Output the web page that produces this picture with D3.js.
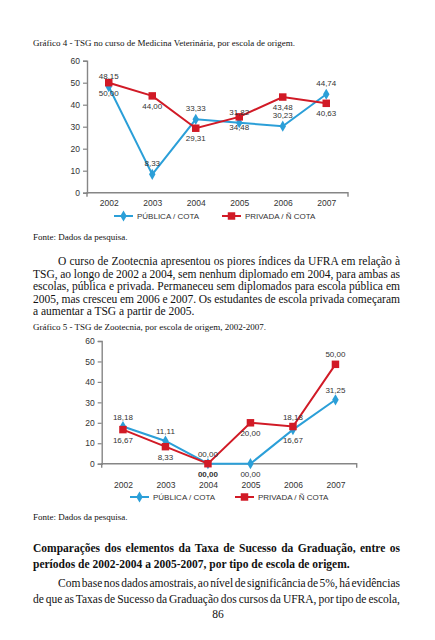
<!DOCTYPE html>
<html>
<head>
<meta charset="utf-8">
<script src="https://cdn.jsdelivr.net/npm/d3@7/dist/d3.min.js"></script>
<style>
  html, body { margin: 0; padding: 0; background: #fff; }
  svg { display: block; }
</style>
</head>
<body>
<svg id="page" width="435" height="640"></svg>
<script>
// ---------- DATA ----------
const years = ["2002", "2003", "2004", "2005", "2006", "2007"];
const yTicks = [0, 10, 20, 30, 40, 50, 60];
const seriesNames = ["PÚBLICA / COTA", "PRIVADA / Ñ COTA"];

// Gráfico 4 - Medicina Veterinária
const vetPublica = [48.15, 8.33, 33.33, 31.82, 30.23, 44.74];
const vetPrivada = [50.00, 44.00, 29.31, 34.48, 43.48, 40.63];
const vetPublicaLabels = ["48,15", "8,33", "33,33", "31,82", "30,23", "44,74"];
const vetPrivadaLabels = ["50,00", "44,00", "29,31", "34,48", "43,48", "40,63"];
const vetPublicaPos = ["above", "above", "above", "above", "above", "above"];
const vetPrivadaPos = ["below", "below", "below", "below", "below", "below"];

// Gráfico 5 - Zootecnia
const zooPublica = [18.18, 11.11, 0.00, 0.00, 16.67, 31.25];
const zooPrivada = [16.67, 8.33, 0.00, 20.00, 18.18, 48.6];
const zooPublicaLabels = ["18,18", "11,11", "00,00", "00,00", "16,67", "31,25"];
const zooPrivadaLabels = ["16,67", "8,33", "00,00", "20,00", "18,18", "50,00"];
const zooPublicaPos = ["above", "above", "below", "below", "below", "above"];
const zooPrivadaPos = ["below", "below", "above", "below", "above", "above"];
const zooPublicaBold = [false, false, true, false, false, false];

// Texts
const caption4 = "Gráfico 4 - TSG no curso de Medicina Veterinária, por escola de origem.";
const caption5 = "Gráfico 5 - TSG de Zootecnia, por escola de origem, 2002-2007.";
const sourceText = "Fonte: Dados da pesquisa.";
const para1 = [
  "O curso de Zootecnia apresentou os piores índices da UFRA em relação à",
  "TSG, ao longo de 2002 a 2004, sem nenhum diplomado em 2004, para ambas as",
  "escolas, pública e privada. Permaneceu sem diplomados para escola pública em",
  "2005, mas cresceu em 2006 e 2007. Os estudantes de escola privada começaram",
  "a aumentar a TSG a partir de 2005."
];
const heading = [
  "Comparações dos elementos da Taxa de Sucesso da Graduação, entre os",
  "períodos de 2002-2004 a 2005-2007, por tipo de escola de origem."
];
const para2 = [
  "Com base nos dados amostrais, ao nível de significância de 5%, há evidências",
  "de que as Taxas de Sucesso da Graduação dos cursos da UFRA, por tipo de escola,"
];
const pageNumber = "86";

// ---------- STYLE ----------
const BLUE = "#2b9fd8";
const RED = "#d11a26";
const AXIS = "#868686";
const SERIF = "'Liberation Serif', 'Times New Roman', serif";
const SANS = "'Liberation Sans', Arial, sans-serif";
const LEFT = 33, RIGHT = 400;

const svg = d3.select("#page");
svg.append("rect").attr("width", 435).attr("height", 640).attr("fill", "#fff");

// text line helper (justify with word-spacing)
function textLine(str, x, y, opts) {
  const o = Object.assign({size: 11.5, weight: "normal", justifyTo: null, family: SERIF, anchor: "start"}, opts || {});
  const t = svg.append("text")
    .attr("x", x).attr("y", y)
    .attr("font-family", o.family)
    .attr("font-size", o.size)
    .attr("font-weight", o.weight)
    .attr("text-anchor", o.anchor)
    .attr("fill", "#111")
    .text(str);
  if (o.justifyTo) {
    const natural = t.node().getComputedTextLength();
    const spaces = (str.match(/ /g) || []).length;
    if (spaces > 0) t.attr("word-spacing", ((o.justifyTo - x) - natural) / spaces);
  }
  return t;
}

const diamondPath = d3.symbol().type(d3.symbolDiamond).size(36);
const squarePath = d3.symbol().type(d3.symbolSquare).size(56);

// ---------- CHART ----------
function drawChart(cfg) {
  const g = svg.append("g");
  const x = d3.scalePoint().domain(years).range([cfg.x0, cfg.x1]).padding(0.5);
  const y = d3.scaleLinear().domain([0, 60]).range([cfg.yb, cfg.yt]);

  // y axis
  const ya = g.append("g").attr("transform", `translate(${cfg.x0},0)`)
    .call(d3.axisLeft(y).tickValues(yTicks).tickSize(4).tickPadding(3).tickFormat(d3.format("d")));
  ya.select(".domain").attr("stroke", AXIS).attr("stroke-width", 1.4);
  ya.selectAll(".tick line").attr("stroke", AXIS).attr("stroke-width", 1.2);
  ya.selectAll(".tick text").attr("font-family", SANS).attr("font-size", 8.5).attr("fill", "#333");

  // x axis
  const xa = g.append("g").attr("transform", `translate(0,${cfg.yb})`)
    .call(d3.axisBottom(x).tickSize(0).tickPadding(cfg.xPad));
  xa.select(".domain").attr("stroke", AXIS).attr("stroke-width", 1.4)
    .attr("d", `M${cfg.x0},4V0H${cfg.x1}V4`);
  xa.selectAll(".tick text").attr("font-family", SANS).attr("font-size", 8.5).attr("fill", "#333");

  const line = d3.line().x((d, i) => x(years[i])).y(d => y(d));

  const series = [
    {vals: cfg.pub, labels: cfg.pubLabels, pos: cfg.pubPos, bold: cfg.pubBold, color: BLUE, marker: diamondPath},
    {vals: cfg.pri, labels: cfg.priLabels, pos: cfg.priPos, bold: null, color: RED, marker: squarePath}
  ];
  series.forEach(s => {
    g.append("path").datum(s.vals).attr("d", line)
      .attr("fill", "none").attr("stroke", s.color).attr("stroke-width", 2);
    g.selectAll(null).data(s.vals).enter().append("path")
      .attr("transform", (d, i) => `translate(${x(years[i])},${y(d)})`)
      .attr("d", s.marker)
      .attr("fill", s.color);
  });
  series.forEach(s => {
    g.selectAll(null).data(s.vals).enter().append("text")
      .attr("x", (d, i) => x(years[i]))
      .attr("y", (d, i) => y(d) + (s.pos[i] === "above" ? -cfg.offAbove : cfg.offBelow) + 3)
      .attr("text-anchor", "middle")
      .attr("font-family", SANS).attr("font-size", 8)
      .attr("font-weight", (d, i) => (s.bold && s.bold[i]) ? "bold" : "normal")
      .attr("fill", "#333")
      .text((d, i) => s.labels[i]);
  });

  // legend
  const ly = cfg.legendY;
  const leg = [
    {x1: cfg.leg1, color: BLUE, marker: diamondPath, name: seriesNames[0]},
    {x1: cfg.leg2, color: RED, marker: squarePath, name: seriesNames[1]}
  ];
  leg.forEach(l => {
    g.append("line").attr("x1", l.x1).attr("x2", l.x1 + 19).attr("y1", ly).attr("y2", ly)
      .attr("stroke", l.color).attr("stroke-width", 2);
    g.append("path").attr("transform", `translate(${l.x1 + 9.5},${ly})`)
      .attr("d", l.marker).attr("fill", l.color);
    g.append("text").attr("x", l.x1 + 23).attr("y", ly + 3)
      .attr("font-family", SANS).attr("font-size", 8).attr("fill", "#333").text(l.name);
  });
}

// ---------- PAGE ----------
textLine(caption4, LEFT, 46, {size: 9});
drawChart({
  x0: 87, x1: 348, yb: 192.7, yt: 60.7, xPad: 7.5, offAbove: 11, offBelow: 10,
  pub: vetPublica, pri: vetPrivada,
  pubLabels: vetPublicaLabels, priLabels: vetPrivadaLabels,
  pubPos: vetPublicaPos, priPos: vetPrivadaPos, pubBold: null,
  legendY: 216, leg1: 114, leg2: 222
});
textLine(sourceText, LEFT, 240, {size: 9});

const p1y = [265, 277.5, 290, 302.5, 315];
para1.forEach((s, i) => textLine(s, i === 0 ? 58 : LEFT, p1y[i], {justifyTo: i < para1.length - 1 ? RIGHT : null}));

textLine(caption5, LEFT, 330, {size: 9});
drawChart({
  x0: 101.7, x1: 356.7, yb: 463.7, yt: 341, xPad: 18.3, offAbove: 10, offBelow: 10,
  pub: zooPublica, pri: zooPrivada,
  pubLabels: zooPublicaLabels, priLabels: zooPrivadaLabels,
  pubPos: zooPublicaPos, priPos: zooPrivadaPos, pubBold: zooPublicaBold,
  legendY: 497, leg1: 130, leg2: 235
});
textLine(sourceText, LEFT, 520, {size: 9});

const hy = [552, 567.5];
heading.forEach((s, i) => textLine(s, LEFT, hy[i], {weight: "bold", justifyTo: i === 0 ? RIGHT : null}));
const p2y = [587, 602.5];
para2.forEach((s, i) => textLine(s, i === 0 ? 58 : LEFT, p2y[i], {justifyTo: RIGHT}));
textLine(pageNumber, 218, 618, {anchor: "middle"});
</script>
</body>
</html>
